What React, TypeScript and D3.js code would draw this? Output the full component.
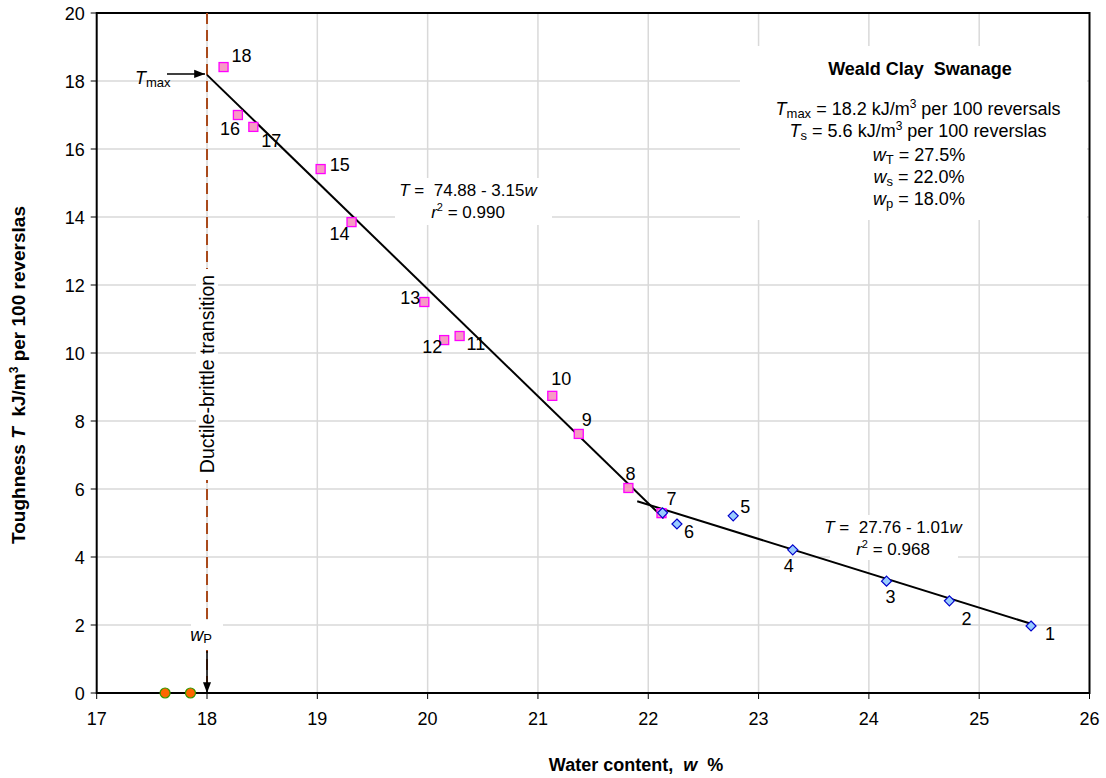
import React from "react";
import * as d3 from "d3";

const pinkIds = ["18", "16", "17", "15", "14", "13", "12", "11", "10", "9", "8", "7"];
const pinkW = [18.15, 18.28, 18.42, 19.03, 19.31, 19.97, 20.15, 20.29, 21.13, 21.37, 21.82, 22.12];
const pinkT = [18.41, 17.0, 16.65, 15.41, 13.85, 11.5, 10.38, 10.5, 8.74, 7.62, 6.03, 5.29];

const blueIds = ["7", "6", "5", "4", "3", "2", "1"];
const blueW = [22.13, 22.26, 22.77, 23.31, 24.16, 24.73, 25.47];
const blueT = [5.3, 4.97, 5.21, 4.21, 3.29, 2.71, 1.97];

const orangeW = [17.62, 17.85];
const orangeT = [0, 0];

const fit1 = { a: 74.88, b: 3.15, w0: 18.0, w1: 22.14 };
const fit2 = { a: 27.76, b: 1.01, w0: 21.9, w1: 25.47 };

const xTicks = [17, 18, 19, 20, 21, 22, 23, 24, 25, 26];
const yTicks = [0, 2, 4, 6, 8, 10, 12, 14, 16, 18, 20];

// label offsets (dx, dy) in px relative to marker
const pinkLabelOff: [number, number][] = [
  [8, -5], [-18, 20], [8, 20], [9, 2], [-22, 18], [-24, 2], [-22, 13], [7, 14], [-1, -11], [3, -8], [-3, -8], [5, -8],
];
const blueLabelOff: [number, number][] = [
  [0, 0], [7, 14], [7, -3], [-9, 22], [-1, 22], [12, 24], [14, 14],
];

const W = 1106, H = 778;
const font = "'Liberation Sans', Arial, sans-serif";
const pre: React.CSSProperties = { whiteSpace: "pre" };

export default function App() {
  const x = d3.scaleLinear().domain([17, 26]).range([96.7, 1089.5]);
  const y = d3.scaleLinear().domain([0, 20]).range([693, 13]);
  const line = d3.line<[number, number]>().x((d) => x(d[0])).y((d) => y(d[1]));
  const l1 = line([[fit1.w0, fit1.a - fit1.b * fit1.w0], [fit1.w1, fit1.a - fit1.b * fit1.w1]]);
  const l2 = line([[fit2.w0, fit2.a - fit2.b * fit2.w0], [fit2.w1, fit2.a - fit2.b * fit2.w1]]);
  const dia = "M0,-5L5,0L0,5L-5,0Z";
  const xl = x(18);
  const tmaxY = y(fit1.a - fit1.b * fit1.w0);

  return (
    <svg width={W} height={H} style={{ position: "absolute", left: 0, top: 0, fontFamily: font }}>
      <defs>
        <marker id="arr" viewBox="0 0 12 10" refX="12" refY="5" markerWidth="12" markerHeight="9" orient="auto" markerUnits="userSpaceOnUse">
          <path d="M0,0.5 L12,5 L0,9.5 z" fill="#000" />
        </marker>
      </defs>
      <rect x={0} y={0} width={W} height={H} fill="#fff" />
      {/* grid */}
      {xTicks.slice(1, -1).map((t) => (
        <line key={"gx" + t} x1={x(t)} x2={x(t)} y1={y(20)} y2={y(0)} stroke="#d9d9d9" strokeWidth={1.5} />
      ))}
      {yTicks.slice(1, -1).map((t) => (
        <line key={"gy" + t} x1={x(17)} x2={x(26)} y1={y(t)} y2={y(t)} stroke="#d9d9d9" strokeWidth={1.5} />
      ))}
      {/* annotation white boxes */}
      <rect x={740} y={46} width={347} height={174} fill="#fff" />
      <rect x={395} y={178} width={157} height={47} fill="#fff" />
      <rect x={830} y={515} width={128} height={45} fill="#fff" />
      {/* frame */}
      <rect x={x(17)} y={y(20)} width={x(26) - x(17)} height={y(0) - y(20)} fill="none" stroke="#000" strokeWidth={2} />
      {/* ticks */}
      {yTicks.map((t) => (
        <g key={"yt" + t}>
          <line x1={x(17) - 6} x2={x(17)} y1={y(t)} y2={y(t)} stroke="#000" strokeWidth={1} />
          <text x={x(17) - 12} y={y(t) + 6.5} textAnchor="end" fontSize={18}>{t}</text>
        </g>
      ))}
      {xTicks.map((t) => (
        <g key={"xt" + t}>
          <line x1={x(t)} x2={x(t)} y1={y(0)} y2={y(0) + 6} stroke="#000" strokeWidth={1} />
          <text x={x(t)} y={y(0) + 32} textAnchor="middle" fontSize={18}>{t}</text>
        </g>
      ))}
      {/* dashed transition line */}
      <line x1={xl} x2={xl} y1={y(20)} y2={y(0)} stroke="#a94a1c" strokeWidth={2} strokeDasharray="11,6" />
      <rect x={xl - 11} y={269} width={22} height={211} fill="#fff" />
      <text transform={`translate(${xl + 7},${374}) rotate(-90)`} textAnchor="middle" fontSize={19.5}>Ductile-brittle transition</text>
      {/* wP label */}
      <rect x={xl - 16} y={620} width={32} height={30} fill="#fff" />
      <text x={xl - 6} y={641} fontSize={18} textAnchor="middle" fontStyle="italic">w<tspan fontStyle="normal" fontSize={13} dy={2}>P</tspan></text>
      <line x1={xl} x2={xl} y1={651} y2={y(0)} stroke="#000" strokeWidth={1.5} markerEnd="url(#arr)" />
      {/* Tmax arrow */}
      <text x={135} y={84} fontSize={18}><tspan fontStyle="italic">T</tspan><tspan fontSize={13} dy={3}>max</tspan></text>
      <line x1={167} x2={xl - 2} y1={tmaxY - 1} y2={tmaxY - 1} stroke="#000" strokeWidth={1.5} markerEnd="url(#arr)" />
      {/* fit lines */}
      <path d={l1 ?? ""} stroke="#000" strokeWidth={2} fill="none" />
      <path d={l2 ?? ""} stroke="#000" strokeWidth={2} fill="none" />
      {/* pink squares */}
      {pinkW.map((w, i) => (
        <rect key={"p" + i} x={x(w) - 4.5} y={y(pinkT[i]) - 4.5} width={9} height={9} fill="#f79ac4" stroke="#ff00ff" strokeWidth={1.3} />
      ))}
      {/* blue diamonds */}
      {blueW.map((w, i) => (
        <path key={"b" + i} d={dia} transform={`translate(${x(w)},${y(blueT[i])})`} fill="#99ccff" stroke="#0000cc" strokeWidth={1.2} />
      ))}
      {/* orange points */}
      {orangeW.map((w, i) => (
        <circle key={"o" + i} cx={x(w)} cy={y(orangeT[i])} r={5} fill="#ff6600" stroke="#339900" strokeWidth={1.2} />
      ))}
      {/* point labels */}
      {pinkW.map((w, i) => (
        <text key={"pl" + i} x={x(w) + pinkLabelOff[i][0]} y={y(pinkT[i]) + pinkLabelOff[i][1]} fontSize={18}>{pinkIds[i]}</text>
      ))}
      {blueW.map((w, i) =>
        i === 0 ? null : (
          <text key={"bl" + i} x={x(w) + blueLabelOff[i][0]} y={y(blueT[i]) + blueLabelOff[i][1]} fontSize={18}>{blueIds[i]}</text>
        )
      )}
      {/* equations */}
      <text x={468} y={196} textAnchor="middle" fontSize={17} style={pre}><tspan fontStyle="italic">T</tspan> =  74.88 - 3.15<tspan fontStyle="italic">w</tspan></text>
      <text x={468} y={218} textAnchor="middle" fontSize={17}><tspan fontStyle="italic">r</tspan><tspan fontSize={11} dy={-7}>2</tspan><tspan dy={7}> = 0.990</tspan></text>
      <text x={893} y={533} textAnchor="middle" fontSize={17} style={pre}><tspan fontStyle="italic">T</tspan> =  27.76 - 1.01<tspan fontStyle="italic">w</tspan></text>
      <text x={893} y={555} textAnchor="middle" fontSize={17}><tspan fontStyle="italic">r</tspan><tspan fontSize={11} dy={-7}>2</tspan><tspan dy={7}> = 0.968</tspan></text>
      {/* info box */}
      <g fontSize={18} textAnchor="middle">
        <text x={920} y={75} fontWeight="bold" style={pre}>Weald Clay  Swanage</text>
        <text x={918} y={115}><tspan fontStyle="italic">T</tspan><tspan fontSize={13} dy={3}>max</tspan><tspan dy={-3}> = 18.2 kJ/m</tspan><tspan fontSize={12} dy={-7}>3</tspan><tspan dy={7}> per 100 reversals</tspan></text>
        <text x={918} y={137}><tspan fontStyle="italic">T</tspan><tspan fontSize={13} dy={3}>s</tspan><tspan dy={-3}> = 5.6 kJ/m</tspan><tspan fontSize={12} dy={-7}>3</tspan><tspan dy={7}> per 100 reverslas</tspan></text>
        <text x={919} y={161}><tspan fontStyle="italic">w</tspan><tspan fontSize={13} dy={3}>T</tspan><tspan dy={-3}> = 27.5%</tspan></text>
        <text x={919} y={183}><tspan fontStyle="italic">w</tspan><tspan fontSize={13} dy={3}>s</tspan><tspan dy={-3}> = 22.0%</tspan></text>
        <text x={919} y={205}><tspan fontStyle="italic">w</tspan><tspan fontSize={13} dy={3}>p</tspan><tspan dy={-3}> = 18.0%</tspan></text>
      </g>
      {/* axis titles */}
      <text x={636} y={771} textAnchor="middle" fontSize={18} fontWeight="bold" style={pre}>Water content,  <tspan fontStyle="italic">w</tspan>  %</text>
      <text transform="translate(25,375) rotate(-90)" textAnchor="middle" fontSize={19} fontWeight="bold" style={pre}>
        Toughness <tspan fontStyle="italic">T</tspan>  kJ/m<tspan fontSize={12} dy={-7}>3</tspan><tspan dy={7}> per 100 reverslas</tspan>
      </text>
    </svg>
  );
}
